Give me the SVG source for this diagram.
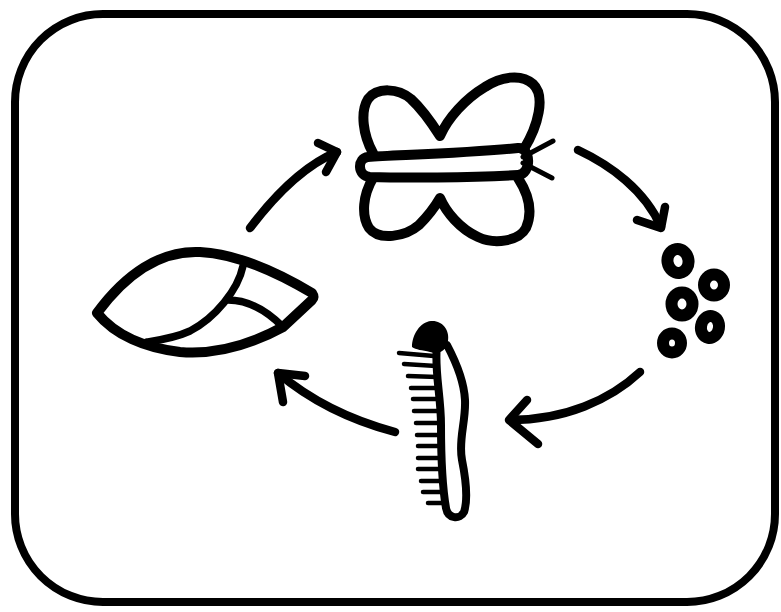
<svg xmlns="http://www.w3.org/2000/svg" width="781" height="612" viewBox="0 0 781 612">
  <style>
    .ink { fill: none; stroke: #000; stroke-linecap: round; stroke-linejoin: round; }
    .thick { stroke-width: 10; }
    .shaft { stroke-width: 8.5; }
    .thin { stroke-width: 7.5; }
    .leg { stroke-width: 4.5; }
    .egg { fill: #fff; stroke: #000; stroke-width: 12; }
  </style>

  <rect width="781" height="612" fill="#fff"/>
  <!-- outer frame -->
  <rect x="15" y="14" width="760" height="588" rx="88" ry="88" fill="none" stroke="#000" stroke-width="8"/>

  <!-- adult butterfly -->
  <g id="butterfly">
    <path class="ink thick" d="M373,153 C363,135 360,112 368,99 C377,87 398,88 411,99 C423,110 433,125 440,136 C448,118 465,99 485,87 C500,77 521,73 533,84 C546,96 538,126 524,149"/>
    <path class="ink thick" d="M373,178 C363,195 361,215 369,228 C379,241 405,237 419,225 C429,215 436,205 440,198 C446,212 460,229 478,237 C495,245 519,241 526,228 C533,212 529,195 518,178"/>
    <path class="ink thick" d="M368,157 C400,155 470,153 518,148 C531,147 532,174 518,175 C470,178 400,178 370,177 C357,176 357,158 368,157 Z" fill="#fff"/>
    <path class="ink" stroke-width="5" d="M523,157 L553,141 M523,163 L552,178"/>
  </g>

  <!-- eggs -->
  <g id="eggs">
    <ellipse class="egg" cx="678" cy="261" rx="10.5" ry="12" transform="rotate(-10 678 261)"/>
    <ellipse class="egg" cx="714" cy="285" rx="10" ry="10.5"/>
    <ellipse class="egg" cx="682" cy="304" rx="10.5" ry="11.5"/>
    <ellipse class="egg" cx="710" cy="327" rx="9" ry="11" transform="rotate(10 710 327)"/>
    <ellipse class="egg" cx="672" cy="343" rx="9" ry="9.5"/>
  </g>

  <!-- caterpillar -->
  <g id="caterpillar">
    <path class="ink" stroke-width="8" fill="#fff" d="M437,345 C434,370 441,395 441,425 C441,455 442,485 446,508 C448,519 460,520 464,512 C468,500 466,480 462,460 C458,440 466,422 465,400 C464,380 456,362 447,345 Z"/>
    <path d="M431,321 C442,320 450,330 448,341 C446,351 439,355 430,352 C422,350 416,350 412,347 C412,335 420,322 431,321 Z" fill="#000"/>
    <g class="ink leg">
      <path d="M399,353 L434,356"/>
      <path d="M404,364 L436,366"/>
      <path d="M408,376 L437,377"/>
      <path d="M411,388 L438,388"/>
      <path d="M413,399 L439,399"/>
      <path d="M414,411 L440,411"/>
      <path d="M416,423 L441,423"/>
      <path d="M417,435 L441,435"/>
      <path d="M418,446 L441,446"/>
      <path d="M418,458 L441,458"/>
      <path d="M418,469 L442,469"/>
      <path d="M421,481 L443,481"/>
      <path d="M423,492 L444,492"/>
      <path d="M428,503 L445,503"/>
    </g>
  </g>

  <!-- chrysalis -->
  <g id="chrysalis">
    <path class="ink thick" d="M97,313 C125,275 160,250 200,252 C240,254 280,274 312,293 C314,296 314,298 312,300 L283,327 C250,345 215,355 180,352 C145,348 115,335 97,313 Z"/>
    <path class="ink thin" d="M243,266 C238,290 215,318 190,331 C175,338 160,340 147,342"/>
    <path class="ink thin" d="M228,300 C250,300 268,312 283,327"/>
  </g>

  <!-- cycle arrows -->
  <g id="connectors" class="ink shaft">
    <path d="M578,150 C610,165 645,190 661,227"/>
    <path d="M637,220 L661,228 L665,207"/>
    <path d="M640,372 C610,400 565,420 510,420"/>
    <path d="M527,400 L509,420 L538,444"/>
    <path d="M395,432 C350,420 310,400 278,373"/>
    <path d="M305,376 L278,373 L283,402"/>
    <path d="M250,228 C275,195 305,165 337,152"/>
    <path d="M318,143 L337,152 L326,172"/>
  </g>
</svg>
